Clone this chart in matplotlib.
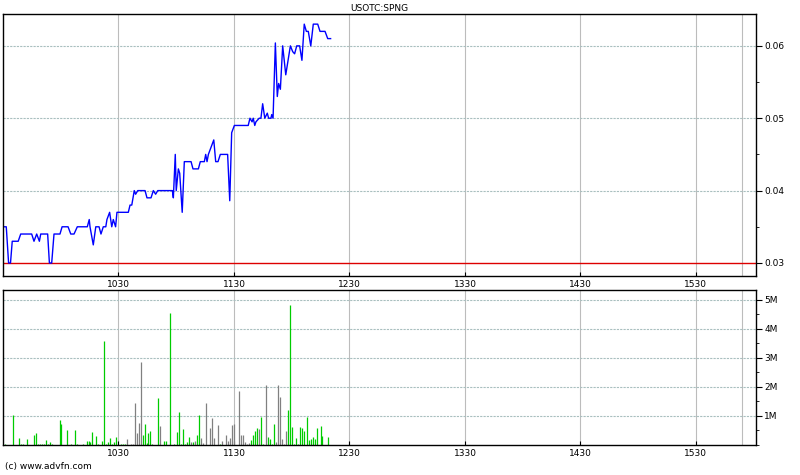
import numpy as np
import matplotlib
matplotlib.use('Agg')
import matplotlib.pyplot as plt
from matplotlib.ticker import MultipleLocator, FuncFormatter

### data, minutes after 09:30
price_min = [0, 1.7, 2.9, 3.9, 4.8, 7.9, 9.2, 14.9, 16.1, 17.5, 18.9, 19.6, 23.2, 24.1,
             25.3, 26.5, 29.6, 30.7, 33.8, 35.2, 36.9, 38.6, 43.8, 44.8, 45.2, 46.9,
             48.2, 49.9, 50.9, 52.1, 53.4, 54.0, 55.4, 56.5, 57.3, 58.5, 59.2, 65.1,
             66.0, 66.9, 68.2, 68.9, 70.0, 73.8, 74.8, 76.9, 78.1, 79.3, 80.4, 88.0,
             88.5, 89.5, 90.0, 91.1, 91.8, 93.1, 94.2, 97.7, 98.7, 101.5, 102.5, 104.6,
             105.3, 106.0, 106.7, 109.5, 110.5, 111.7, 112.9, 116.7, 117.8, 118.8, 120.2,
             127.4, 128.3, 129.4, 130.0, 130.8, 131.4, 133.1, 134.0, 134.9, 136.0, 137.3,
             138.0, 139.2, 139.6, 140.3, 141.5, 142.5, 143.2, 144.1, 145.3, 146.9, 149.3,
             150.5, 151.5, 152.6, 154.1, 155.3, 156.5, 157.6, 158.6, 159.9, 161.2, 163.5,
             164.7, 167.3, 168.7, 170.2]
price = [0.035, 0.035, 0.030, 0.030, 0.033, 0.033, 0.034, 0.034, 0.033, 0.034, 0.033,
         0.034, 0.034, 0.030, 0.030, 0.034, 0.034, 0.035, 0.035, 0.034, 0.034, 0.035,
         0.035, 0.036, 0.035, 0.0325, 0.035, 0.035, 0.034, 0.035, 0.035, 0.036, 0.037,
         0.035, 0.036, 0.035, 0.037, 0.037, 0.038, 0.038, 0.040, 0.0395, 0.040, 0.040,
         0.039, 0.039, 0.040, 0.0395, 0.040, 0.040, 0.039, 0.045, 0.040, 0.043, 0.0424,
         0.037, 0.044, 0.044, 0.043, 0.043, 0.044, 0.044, 0.045, 0.044, 0.045, 0.047,
         0.044, 0.044, 0.045, 0.045, 0.0386, 0.048, 0.049, 0.049, 0.050, 0.0495, 0.050,
         0.049, 0.0495, 0.050, 0.050, 0.052, 0.050, 0.0507, 0.050, 0.050, 0.0505, 0.050,
         0.0604, 0.053, 0.0548, 0.054, 0.060, 0.056, 0.060, 0.0592, 0.0589, 0.060, 0.060,
         0.058, 0.063, 0.062, 0.062, 0.060, 0.063, 0.063, 0.062, 0.062, 0.061, 0.061]

vol_min = [1.2, 5.4, 8.5, 9.5, 10.6, 12.6, 16.3, 17.3, 18.3, 19.4, 20.4, 21.5, 22.5, 23.5,
           24.6, 25.6, 29.8, 30.3, 33.4, 35.5, 37.6, 38.6, 41.7, 43.8, 44.8, 45.4, 46.4,
           48.5, 49.5, 51.6, 52.6, 53.7, 54.7, 55.7, 56.8, 57.8, 58.9, 61.5, 62.5, 63.5,
           64.6, 66.7, 67.7, 68.7, 69.8, 70.8, 71.9, 72.9, 73.9, 75.0, 75.5, 76.5, 77.6,
           80.7, 81.7, 83.8, 84.8, 86.9, 89.0, 90.5, 91.6, 92.6, 93.7, 94.7, 95.7, 96.8,
           97.8, 98.9, 99.9, 100.9, 102.0, 103.0, 104.1, 105.6, 107.7, 108.7, 109.8, 111.8,
           112.9, 113.9, 116.0, 117.0, 118.1, 119.1, 120.2, 122.8, 123.8, 124.8, 125.9,
           126.9, 128.0, 129.0, 130.0, 131.1, 132.1, 133.2, 134.2, 135.2, 136.8, 137.8,
           138.9, 139.9, 140.9, 142.0, 143.0, 144.1, 145.1, 146.1, 147.2, 148.2, 149.3,
           150.3, 151.3, 152.4, 153.4, 154.4, 155.5, 156.5, 158.1, 159.1, 160.2, 161.2,
           162.2, 163.3, 165.4, 165.9, 169.0]
vol_m = [0.05, 1.03, 0.24, 0.04, 0.02, 0.20, 0.34, 0.41, 0.05, 0.02, 0.02, 0.02, 0.16, 0.05,
         0.11, 0.02, 0.86, 0.72, 0.52, 0.02, 0.52, 0.05, 0.05, 0.15, 0.15, 0.11, 0.45,
         0.31, 0.02, 0.15, 3.59, 0.02, 0.11, 0.24, 0.02, 0.11, 0.26, 0.02, 0.05, 0.02,
         0.20, 0.05, 0.05, 1.45, 0.40, 0.76, 2.86, 0.33, 0.72, 0.07, 0.40, 0.48, 0.02,
         1.62, 0.66, 0.15, 0.15, 4.55, 0.05, 0.45, 1.14, 0.05, 0.55, 0.05, 0.10, 0.26,
         0.10, 0.10, 0.15, 0.34, 1.03, 0.24, 0.07, 1.45, 0.57, 0.93, 0.24, 0.69,
         0.02, 0.15, 0.34, 0.15, 0.24, 0.69, 0.72, 1.86, 0.34, 0.34, 0.10,
         0.02, 0.07, 0.17, 0.34, 0.48, 0.57, 0.55, 0.97, 0.05, 2.07, 0.26,
         0.20, 0.05, 0.72, 0.10, 2.07, 1.66, 0.20, 0.05, 0.48, 1.21, 4.83,
         0.62, 0.05, 0.24, 0.05, 0.62, 0.57, 0.48, 0.97, 0.17, 0.20, 0.26,
         0.20, 0.57, 0.66, 0.31, 0.26]
# g = buy (green), n = neutral (grey)
vol_side = list('gggggggggggggggggggggggggggggggggggggggg'
                'nnnnnnngggggggngggggggggggngnggnnnnnn'
                'ngnnnnnnnnnnnnggggnggnggggnnnnnnggggggg'
                'ggggg')

hour_labels = ['1030', '1130', '1230', '1330', '1430', '1530']
prev_close = 0.030

vol_side = (vol_side + ['g'] * len(vol_m))[:len(vol_m)]

grid_h = dict(color='#a9bfbf', linewidth=0.8, linestyle=(0, (2, 1)))
grid_v = dict(color='#bcbcbc', linewidth=0.8)
fs = 6.5
x_max = 391.2
ticks = [60 * (i + 1) for i in range(len(hour_labels))]

fig = plt.figure(figsize=(8, 4.75), dpi=100)
top = fig.add_axes([3 / 800, 1 - 276 / 475, 753 / 800, 262 / 475])
bot = fig.add_axes([3 / 800, 1 - 445 / 475, 753 / 800, 155 / 475])

for ax in (top, bot):
    ax.set_xlim(0, x_max)
    ax.set_xticks(ticks)
    ax.set_xticklabels(hour_labels, fontsize=fs)
    ax.tick_params(axis='x', direction='in', length=3, pad=3)
    ax.yaxis.tick_right()
    ax.tick_params(axis='y', which='both', direction='out', right=True, labelsize=fs, pad=2)
    ax.tick_params(axis='y', which='major', length=4)
    ax.tick_params(axis='y', which='minor', length=2)
    for t in ticks:
        ax.axvline(t, zorder=0, **grid_v)
    ax.axvline(384, zorder=0, **grid_v)
    for s in ax.spines.values():
        s.set_linewidth(1.0)

### price panel
top.set_ylim(0.0282, 0.0644)
top.set_yticks([0.03, 0.04, 0.05, 0.06])
top.yaxis.set_minor_locator(MultipleLocator(0.005))
top.yaxis.set_major_formatter(FuncFormatter(lambda v, p: f'{v:.2f}'))
for v in [0.04, 0.05, 0.06]:
    top.axhline(v, zorder=0, **grid_h)
top.axhline(prev_close, color='#dd0000', linewidth=1, zorder=1)
top.plot(price_min, price, color='#0000ff', linewidth=1, zorder=2)
top.set_title('USOTC:SPNG', fontsize=fs, pad=2)

### volume panel
bot.set_ylim(0, 5.34)
bot.set_yticks([1, 2, 3, 4, 5])
bot.yaxis.set_minor_locator(MultipleLocator(0.5))
bot.yaxis.set_major_formatter(FuncFormatter(lambda v, p: f'{int(v)}M'))
for v in [1, 2, 3, 4, 5]:
    bot.axhline(v, zorder=0, **grid_h)
colors = ['#00cc00' if s == 'g' else '#808080' for s in vol_side]
bot.vlines(vol_min, 0, vol_m, colors=colors, linewidth=0.9, zorder=2)

fig.text(5 / 800, 1 - 466 / 475, '(c) www.advfn.com', fontsize=fs, va='center')

fig.savefig('out.png', dpi=100)
